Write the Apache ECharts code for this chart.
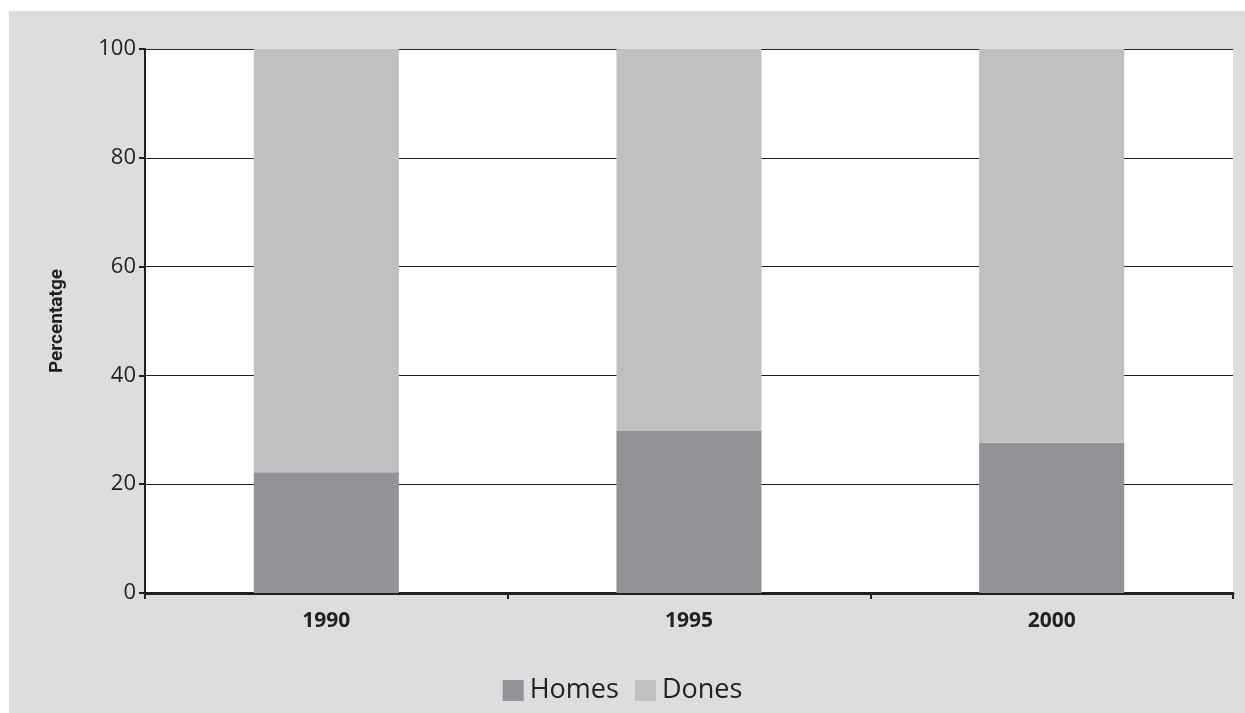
<!DOCTYPE html>
<html>
<head>
<meta charset="utf-8">
<script src="https://cdn.jsdelivr.net/npm/echarts@6/dist/echarts.min.js"></script>
<style>
html,body{margin:0;padding:0;background:#dcdddf;overflow:hidden;}
#chart{width:1245px;height:713px;}
</style>
</head>
<body>
<div id="chart"></div>
<script>
const categories = ['1990', '1995', '2000'];
const homes = [22.2, 29.8, 27.6];
const dones = [77.8, 70.2, 72.4];
const yTicks = [0, 20, 40, 60, 80, 100];

const chart = echarts.init(document.getElementById('chart'), null, {renderer: 'canvas'});
chart.setOption({
  backgroundColor: '#ffffff',
  animation: false,
  graphic: [{
    type: 'rect', z: -10, silent: true,
    shape: {x: 9, y: 11, width: 1300, height: 760},
    style: {fill: '#dcdddf'}
  }],
  grid: {
    left: 145, right: 12, top: 49, bottom: 120,
    show: true, backgroundColor: '#ffffff', borderWidth: 0
  },
  legend: {
    top: 672, left: 'center',
    itemWidth: 21, itemHeight: 21, itemGap: 16,
    icon: 'rect',
    textStyle: {fontFamily: 'Open Sans', fontSize: 27, color: '#231f20', padding: [0, 0, 0, 1]},
    data: ['Homes', 'Dones']
  },
  xAxis: {
    type: 'category', data: categories,
    axisLine: {lineStyle: {color: '#231f20', width: 3}},
    axisTick: {show: true, length: 6, lineStyle: {color: '#231f20', width: 2}},
    axisLabel: {fontFamily: 'Open Sans', fontWeight: 'bold', fontSize: 21, color: '#231f20', margin: 18}
  },
  yAxis: {
    type: 'value', min: 0, max: 100, interval: 20,
    name: 'Percentatge', nameLocation: 'middle', nameGap: 78, nameRotate: 90,
    nameTextStyle: {fontFamily: 'Roboto', fontWeight: 'bold', fontSize: 19, color: '#231f20'},
    axisLine: {show: true, lineStyle: {color: '#231f20', width: 2}},
    axisTick: {show: true, length: 6, lineStyle: {color: '#231f20', width: 2}},
    splitLine: {show: true, lineStyle: {color: '#231f20', width: 1}},
    axisLabel: {fontFamily: 'Open Sans', fontSize: 22, color: '#231f20', margin: 9,
      formatter: v => yTicks.includes(v) ? String(v) : ''}
  },
  series: [
    {name: 'Homes', type: 'bar', stack: 'a', data: homes, barWidth: '40%',
     itemStyle: {color: '#929397'}},
    {name: 'Dones', type: 'bar', stack: 'a', data: dones, barWidth: '40%',
     itemStyle: {color: '#bfc0c2'}}
  ]
});
</script>
</body>
</html>
